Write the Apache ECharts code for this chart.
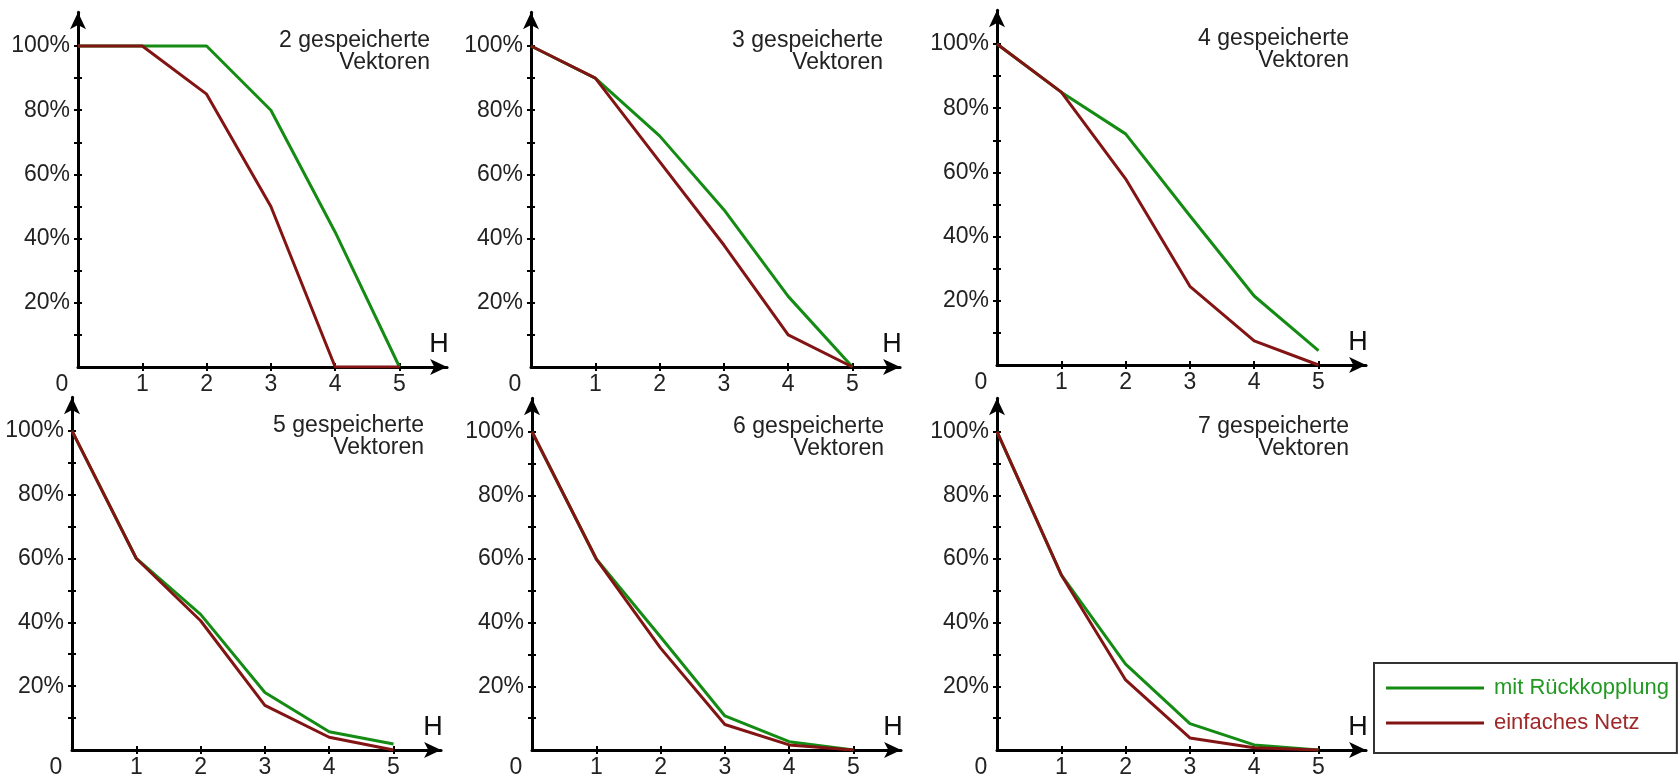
<!DOCTYPE html>
<html>
<head>
<meta charset="utf-8">
<title>Wiedererkennungsrate</title>
<script src="https://cdn.jsdelivr.net/npm/echarts@6/dist/echarts.min.js"></script>
<style>
html, body { margin: 0; padding: 0; background: #fff; }
#chart { width: 1679px; height: 779px; }
</style>
</head>
<body>
<div id="chart"></div>
<script>
var hWerte = [0, 1, 2, 3, 4, 5];
var xTicks = [1, 2, 3, 4, 5];
var xLabels = [0, 1, 2, 3, 4, 5];
var yTicks = [10, 20, 30, 40, 50, 60, 70, 80, 90, 100];
var yLabels = [20, 40, 60, 80, 100];
var vektorAnzahl = [2, 3, 4, 5, 6, 7];

var mitRueck2 = [100, 100, 100, 80, 42, 0];
var einfach2 = [100, 100, 85, 50, 0, 0];
var mitRueck3 = [100, 90, 72, 49, 22, 0];
var einfach3 = [100, 90, 64, 38, 10, 0];
var mitRueck4 = [100, 85, 72, 46.5, 21.5, 4.5];
var einfach4 = [100, 85, 58, 24.5, 7.5, 0];
var mitRueck5 = [100, 60, 42.5, 18, 5.7, 1.9];
var einfach5 = [100, 60, 40.5, 14, 4, 0];
var mitRueck6 = [100, 60, 35.5, 10.7, 2.6, 0];
var einfach6 = [100, 60, 32, 8, 1.6, 0];
var mitRueck7 = [100, 55, 27, 8.3, 1.6, 0];
var einfach7 = [100, 55, 22, 3.8, 0.7, 0];

var mitRueckkopplung = [mitRueck2, mitRueck3, mitRueck4, mitRueck5, mitRueck6, mitRueck7];
var einfachesNetz = [einfach2, einfach3, einfach4, einfach5, einfach6, einfach7];

var FONT = '"Liberation Sans", Arial, sans-serif';
var TEXT = '#222';
var GREEN = '#148c14';
var RED = '#821414';
var UNIT_X = 64.3;   // px pro H-Schritt
var UNIT_Y = 3.21;   // px pro Prozent
var X_MAX = 5.74;
var Y_MAX = 110.5;
// Lage des Nullpunkts jedes Diagramms
var origins = [[78, 367], [531, 367], [997, 365], [72, 752], [532, 753], [997, 753]];

function pairs(values) {
    return hWerte.map(function (h, i) { return [h, values[i]]; });
}

var grids = [], xAxes = [], yAxes = [], series = [], graphics = [];

origins.forEach(function (o, i) {
    var ox = o[0], oy = o[1];
    grids.push({
        left: ox,
        top: oy - Y_MAX * UNIT_Y,
        width: X_MAX * UNIT_X,
        height: Y_MAX * UNIT_Y
    });

    // Hauptachse mit Pfeil, Beschriftung und Strichen nach aussen
    xAxes.push({
        type: "value", gridIndex: i, position: "bottom", min: 0, max: X_MAX,
        name: "H", nameLocation: "end", nameGap: -8,
        nameTextStyle: { fontSize: 27, fontFamily: FONT, color: "#111", align: "center", verticalAlign: "bottom", padding: [0, 0, 9, 0] },
        axisLine: { show: true, onZero: false, symbol: ["none", "arrow"], symbolSize: [12, 17], lineStyle: { color: "#000", width: 3 } },
        axisTick: { show: true, customValues: xTicks, length: 4, lineStyle: { color: "#000", width: 2 } },
        axisLabel: {
            customValues: xLabels, margin: 6, fontSize: 23, fontFamily: FONT, color: TEXT,
            formatter: function (v) { return v === 0 ? "{z|0}" : String(v); },
            rich: { z: { fontSize: 23, fontFamily: FONT, color: TEXT, padding: [0, 32, 0, 0] } }
        },
        splitLine: { show: false }
    });
    // zweite Achse nur fuer die Striche nach innen
    xAxes.push({
        type: "value", gridIndex: i, position: "bottom", min: 0, max: X_MAX,
        axisLine: { show: false, onZero: false },
        axisTick: { show: true, inside: true, customValues: xTicks, length: 4, lineStyle: { color: "#000", width: 2 } },
        axisLabel: { show: false },
        splitLine: { show: false }
    });

    yAxes.push({
        type: "value", gridIndex: i, position: "left", min: 0, max: Y_MAX,
        axisLine: { show: true, onZero: false, symbol: ["none", "arrow"], symbolSize: [12, 17], lineStyle: { color: "#000", width: 3 } },
        axisTick: { show: true, customValues: yTicks, length: 4, lineStyle: { color: "#000", width: 2 } },
        axisLabel: { customValues: yLabels, margin: 8, fontSize: 23, fontFamily: FONT, color: TEXT, formatter: "{value}%" },
        splitLine: { show: false }
    });
    yAxes.push({
        type: "value", gridIndex: i, position: "left", min: 0, max: Y_MAX,
        axisLine: { show: false, onZero: false },
        axisTick: { show: true, inside: true, customValues: yTicks, length: 4, lineStyle: { color: "#000", width: 2 } },
        axisLabel: { show: false },
        splitLine: { show: false }
    });

    series.push({
        name: "mit Rückkopplung", type: "line", xAxisIndex: 2 * i, yAxisIndex: 2 * i,
        data: pairs(mitRueckkopplung[i]), symbol: "none",
        lineStyle: { color: GREEN, width: 3 }, itemStyle: { color: GREEN }
    });
    series.push({
        name: "einfaches Netz", type: "line", xAxisIndex: 2 * i, yAxisIndex: 2 * i,
        data: pairs(einfachesNetz[i]), symbol: "none",
        lineStyle: { color: RED, width: 3 }, itemStyle: { color: RED }
    });

    graphics.push({
        type: "text", x: ox + 352, y: oy - 315,
        style: {
            text: vektorAnzahl[i] + " gespeicherte\nVektoren",
            align: "right", verticalAlign: "middle",
            fontSize: 23, lineHeight: 22, fontFamily: FONT, fill: TEXT
        }
    });
});

var chart = echarts.init(document.getElementById("chart"));
chart.setOption({
    animation: false,
    backgroundColor: "#fff",
    grid: grids,
    xAxis: xAxes,
    yAxis: yAxes,
    series: series,
    graphic: graphics,
    legend: {
        orient: "vertical", left: 1374, top: 663,
        padding: [14, 8, 19, 12], itemGap: 13,
        borderColor: "#333", borderWidth: 2,
        icon: "rect", itemWidth: 98, itemHeight: 3,
        textStyle: { fontSize: 22, fontFamily: FONT, padding: [0, 0, 0, 5] },
        data: [
            { name: "mit Rückkopplung", textStyle: { color: "#229922" } },
            { name: "einfaches Netz", textStyle: { color: "#a02828" } }
        ]
    }
});
</script>
</body>
</html>
